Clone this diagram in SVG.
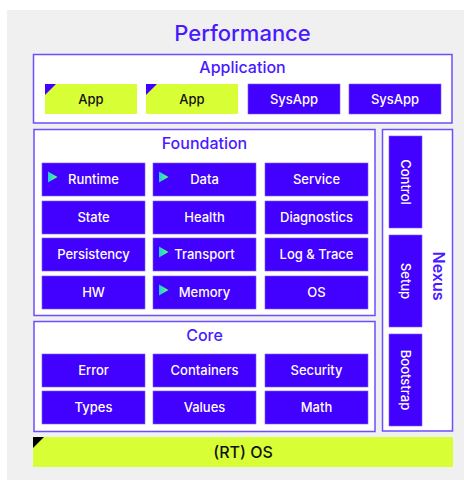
<svg xmlns="http://www.w3.org/2000/svg" width="464" height="480" viewBox="0 0 464 480">
<defs>
<linearGradient id="g" x1="0" y1="0" x2="1" y2="0">
<stop offset="0" stop-color="#20c8e8"/>
<stop offset="1" stop-color="#66ff60"/>
</linearGradient>
<style>
.box{fill:#fff;stroke:#6c4dff;stroke-width:1.5}
.t{fill:#4200ff;stroke:#7a5fff;stroke-width:0.6}
.lime{fill:#d8ff36}
.h{font-family:Inter,"Liberation Sans",sans-serif;fill:#4a1aff;font-weight:500;text-anchor:middle}
.l{font-family:Inter,"Liberation Sans",sans-serif;font-size:13px;font-weight:500;fill:#fff;text-anchor:middle}
.d{font-family:Inter,"Liberation Sans",sans-serif;font-size:13px;font-weight:500;fill:#111;text-anchor:middle}
.ar{fill:url(#g)}
</style>
</defs>
<rect x="7" y="10" width="457" height="470" fill="#f0f0f0"/>
<text class="h" x="242.5" y="41" style="font-size:22px">Performance</text>

<g id="application">
<rect class="box" x="33.5" y="54.5" width="418.5" height="68.5"/>
<text class="h" x="242.5" y="72.5" style="font-size:16px">Application</text>
<g id="app1"><rect class="lime" x="45" y="84" width="92" height="30"/><polygon points="45,84 56,84 45,95" fill="#4200ff"/><text class="d" x="91" y="103.5">App</text></g>
<g id="app2"><rect class="lime" x="146" y="84" width="92" height="30"/><polygon points="146,84 157,84 146,95" fill="#4200ff"/><text class="d" x="192" y="103.5">App</text></g>
<g id="sysapp1"><rect class="t" x="248" y="84" width="92" height="30"/><text class="l" x="294" y="103.5">SysApp</text></g>
<g id="sysapp2"><rect class="t" x="349" y="84" width="92" height="30"/><text class="l" x="395" y="103.5">SysApp</text></g>
</g>

<g id="foundation">
<rect class="box" x="34" y="129.5" width="341" height="186"/>
<text class="h" x="204.5" y="149" style="font-size:16px">Foundation</text>
<g id="runtime"><rect class="t" x="42" y="163" width="103" height="33"/><polygon class="ar" points="48,171.5 57.5,177 48,182.5"/><text class="l" x="93.5" y="184">Runtime</text></g>
<g id="data"><rect class="t" x="153" y="163" width="103" height="33"/><polygon class="ar" points="159,171.5 168.5,177 159,182.5"/><text class="l" x="204.5" y="184">Data</text></g>
<g id="service"><rect class="t" x="265" y="163" width="103" height="33"/><text class="l" x="316.5" y="184">Service</text></g>
<g id="state"><rect class="t" x="42" y="201" width="103" height="33"/><text class="l" x="93.5" y="222">State</text></g>
<g id="health"><rect class="t" x="153" y="201" width="103" height="33"/><text class="l" x="204.5" y="222">Health</text></g>
<g id="diagnostics"><rect class="t" x="265" y="201" width="103" height="33"/><text class="l" x="316.5" y="222">Diagnostics</text></g>
<g id="persistency"><rect class="t" x="42" y="238" width="103" height="33"/><text class="l" x="93.5" y="259">Persistency</text></g>
<g id="transport"><rect class="t" x="153" y="238" width="103" height="33"/><polygon class="ar" points="159,246.5 168.5,252 159,257.5"/><text class="l" x="204.5" y="259">Transport</text></g>
<g id="logtrace"><rect class="t" x="265" y="238" width="103" height="33"/><text class="l" x="316.5" y="259">Log &amp; Trace</text></g>
<g id="hw"><rect class="t" x="42" y="276" width="103" height="33"/><text class="l" x="93.5" y="297">HW</text></g>
<g id="memory"><rect class="t" x="153" y="276" width="103" height="33"/><polygon class="ar" points="159,284.5 168.5,290 159,295.5"/><text class="l" x="204.5" y="297">Memory</text></g>
<g id="os"><rect class="t" x="265" y="276" width="103" height="33"/><text class="l" x="316.5" y="297">OS</text></g>
</g>

<g id="core">
<rect class="box" x="34" y="321.5" width="341" height="110"/>
<text class="h" x="204.5" y="341" style="font-size:16px">Core</text>
<g id="error"><rect class="t" x="42" y="354" width="103" height="33"/><text class="l" x="93.5" y="375">Error</text></g>
<g id="containers"><rect class="t" x="153" y="354" width="103" height="33"/><text class="l" x="204.5" y="375">Containers</text></g>
<g id="security"><rect class="t" x="265" y="354" width="103" height="33"/><text class="l" x="316.5" y="375">Security</text></g>
<g id="types"><rect class="t" x="42" y="391" width="103" height="33"/><text class="l" x="93.5" y="412">Types</text></g>
<g id="values"><rect class="t" x="153" y="391" width="103" height="33"/><text class="l" x="204.5" y="412">Values</text></g>
<g id="math"><rect class="t" x="265" y="391" width="103" height="33"/><text class="l" x="316.5" y="412">Math</text></g>
</g>

<g id="nexus">
<rect class="box" x="382.5" y="129.5" width="70" height="301.5"/>
<text class="h" style="font-size:16px;font-weight:600" transform="translate(433,276) rotate(90)">Nexus</text>
<g id="control"><rect class="t" x="389" y="136" width="33" height="92"/><text class="l" transform="translate(401,182) rotate(90)">Control</text></g>
<g id="setup"><rect class="t" x="389" y="235" width="33" height="92"/><text class="l" transform="translate(401,281) rotate(90)">Setup</text></g>
<g id="bootstrap"><rect class="t" x="389" y="334" width="33" height="92"/><text class="l" transform="translate(401,380) rotate(90)">Bootstrap</text></g>
</g>

<g id="rtos">
<rect class="lime" x="33" y="437" width="420" height="30"/>
<polygon points="33,437 44,437 33,448" fill="#000"/>
<text class="d" x="243" y="458" style="font-size:16px">(RT) OS</text>
</g>
<g id="connectors"/>
</svg>
